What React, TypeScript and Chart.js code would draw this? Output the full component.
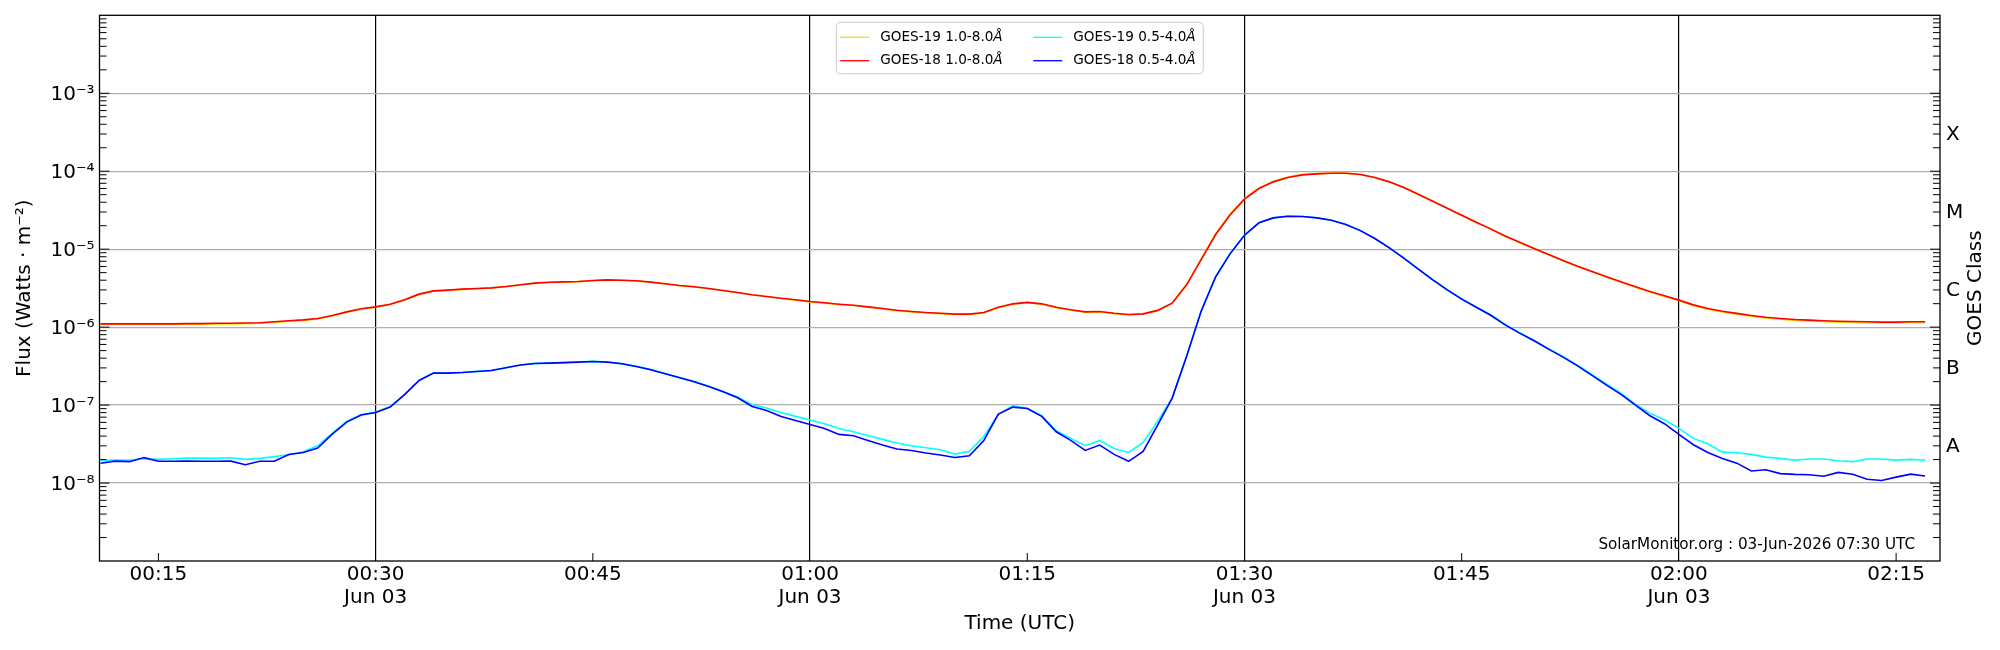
import { useEffect, useRef } from 'react';
import { Chart, registerables } from 'chart.js';

Chart.register(...registerables);

// one sample per minute, minutes after 00:00 UTC on Jun 03
const minutes = [
  11, 12, 13, 14, 15, 16, 17, 18, 19, 20, 21, 22, 23, 24, 25, 26, 27, 28, 29, 30,
  31, 32, 33, 34, 35, 36, 37, 38, 39, 40, 41, 42, 43, 44, 45, 46, 47, 48, 49, 50,
  51, 52, 53, 54, 55, 56, 57, 58, 59, 60, 61, 62, 63, 64, 65, 66, 67, 68, 69, 70,
  71, 72, 73, 74, 75, 76, 77, 78, 79, 80, 81, 82, 83, 84, 85, 86, 87, 88, 89, 90,
  91, 92, 93, 94, 95, 96, 97, 98, 99, 100, 101, 102, 103, 104, 105, 106, 107, 108, 109, 110,
  111, 112, 113, 114, 115, 116, 117, 118, 119, 120, 121, 122, 123, 124, 125, 126, 127, 128, 129, 130,
  131, 132, 133, 134, 135, 136, 137,
];

const g19Long = [
  1.08e-6, 1.08e-6, 1.08e-6, 1.08e-6, 1.08e-6, 1.08e-6, 1.09e-6, 1.09e-6, 1.10e-6, 1.10e-6,
  1.11e-6, 1.12e-6, 1.15e-6, 1.19e-6, 1.22e-6, 1.27e-6, 1.39e-6, 1.55e-6, 1.70e-6, 1.80e-6,
  1.95e-6, 2.22e-6, 2.62e-6, 2.90e-6, 2.96e-6, 3.05e-6, 3.11e-6, 3.17e-6, 3.30e-6, 3.47e-6,
  3.65e-6, 3.75e-6, 3.79e-6, 3.83e-6, 3.94e-6, 4.02e-6, 3.98e-6, 3.91e-6, 3.76e-6, 3.58e-6,
  3.40e-6, 3.27e-6, 3.11e-6, 2.93e-6, 2.76e-6, 2.58e-6, 2.45e-6, 2.33e-6, 2.22e-6, 2.11e-6,
  2.03e-6, 1.95e-6, 1.89e-6, 1.80e-6, 1.71e-6, 1.63e-6, 1.57e-6, 1.52e-6, 1.49e-6, 1.45e-6,
  1.45e-6, 1.52e-6, 1.78e-6, 1.97e-6, 2.06e-6, 1.97e-6, 1.78e-6, 1.65e-6, 1.55e-6, 1.57e-6,
  1.49e-6, 1.43e-6, 1.46e-6, 1.62e-6, 2.02e-6, 3.50e-6, 7.45e-6, 1.57e-5, 2.82e-5, 4.48e-5,
  6.12e-5, 7.42e-5, 8.40e-5, 9.06e-5, 9.31e-5, 9.48e-5, 9.46e-5, 9.09e-5, 8.31e-5, 7.31e-5,
  6.18e-5, 5.06e-5, 4.11e-5, 3.34e-5, 2.72e-5, 2.21e-5, 1.81e-5, 1.46e-5, 1.22e-5, 1.01e-5,
  8.49e-6, 7.11e-6, 6.00e-6, 5.13e-6, 4.38e-6, 3.77e-6, 3.25e-6, 2.82e-6, 2.48e-6, 2.19e-6,
  1.90e-6, 1.70e-6, 1.57e-6, 1.47e-6, 1.38e-6, 1.31e-6, 1.26e-6, 1.22e-6, 1.20e-6, 1.18e-6,
  1.16e-6, 1.15e-6, 1.14e-6, 1.14e-6, 1.14e-6, 1.15e-6, 1.15e-6,
];

const g18Long = [
  1.10e-6, 1.10e-6, 1.10e-6, 1.10e-6, 1.10e-6, 1.10e-6, 1.11e-6, 1.11e-6, 1.12e-6, 1.12e-6,
  1.13e-6, 1.14e-6, 1.17e-6, 1.21e-6, 1.24e-6, 1.29e-6, 1.41e-6, 1.57e-6, 1.72e-6, 1.82e-6,
  1.97e-6, 2.24e-6, 2.65e-6, 2.92e-6, 2.98e-6, 3.07e-6, 3.13e-6, 3.19e-6, 3.32e-6, 3.49e-6,
  3.67e-6, 3.77e-6, 3.81e-6, 3.85e-6, 3.96e-6, 4.04e-6, 4.00e-6, 3.93e-6, 3.78e-6, 3.60e-6,
  3.42e-6, 3.29e-6, 3.13e-6, 2.95e-6, 2.78e-6, 2.60e-6, 2.47e-6, 2.35e-6, 2.24e-6, 2.13e-6,
  2.05e-6, 1.97e-6, 1.91e-6, 1.82e-6, 1.73e-6, 1.65e-6, 1.59e-6, 1.54e-6, 1.51e-6, 1.47e-6,
  1.47e-6, 1.54e-6, 1.80e-6, 1.99e-6, 2.08e-6, 1.99e-6, 1.80e-6, 1.67e-6, 1.57e-6, 1.59e-6,
  1.51e-6, 1.45e-6, 1.48e-6, 1.64e-6, 2.03e-6, 3.49e-6, 7.30e-6, 1.53e-5, 2.75e-5, 4.38e-5,
  6.00e-5, 7.30e-5, 8.29e-5, 8.97e-5, 9.24e-5, 9.42e-5, 9.42e-5, 9.06e-5, 8.29e-5, 7.30e-5,
  6.18e-5, 5.07e-5, 4.12e-5, 3.35e-5, 2.73e-5, 2.22e-5, 1.82e-5, 1.48e-5, 1.23e-5, 1.02e-5,
  8.55e-6, 7.16e-6, 6.05e-6, 5.18e-6, 4.42e-6, 3.81e-6, 3.29e-6, 2.86e-6, 2.52e-6, 2.22e-6,
  1.93e-6, 1.73e-6, 1.60e-6, 1.50e-6, 1.41e-6, 1.34e-6, 1.29e-6, 1.25e-6, 1.23e-6, 1.21e-6,
  1.19e-6, 1.18e-6, 1.17e-6, 1.16e-6, 1.16e-6, 1.17e-6, 1.17e-6,
];

const g19Short = [
  1.95e-8, 1.97e-8, 1.97e-8, 2.05e-8, 2.01e-8, 2.05e-8, 2.09e-8, 2.09e-8, 2.07e-8, 2.11e-8,
  2.01e-8, 2.07e-8, 2.18e-8, 2.31e-8, 2.52e-8, 3.01e-8, 4.34e-8, 6.18e-8, 7.55e-8, 8.10e-8,
  9.50e-8, 1.37e-7, 2.08e-7, 2.59e-7, 2.58e-7, 2.63e-7, 2.71e-7, 2.79e-7, 3.02e-7, 3.27e-7,
  3.43e-7, 3.46e-7, 3.50e-7, 3.57e-7, 3.64e-7, 3.57e-7, 3.40e-7, 3.14e-7, 2.85e-7, 2.53e-7,
  2.25e-7, 2.00e-7, 1.74e-7, 1.49e-7, 1.27e-7, 1.01e-7, 9.16e-8, 8.05e-8, 7.16e-8, 6.43e-8,
  5.77e-8, 5.02e-8, 4.55e-8, 4.08e-8, 3.63e-8, 3.26e-8, 3.01e-8, 2.84e-8, 2.67e-8, 2.35e-8,
  2.55e-8, 3.96e-8, 7.59e-8, 9.79e-8, 9.10e-8, 7.30e-8, 4.69e-8, 3.74e-8, 3.01e-8, 3.52e-8,
  2.78e-8, 2.47e-8, 3.32e-8, 6.18e-8, 1.23e-7, 4.25e-7, 1.60e-6, 4.40e-6, 8.75e-6, 1.515e-5,
  2.185e-5, 2.525e-5, 2.655e-5, 2.625e-5, 2.525e-5, 2.355e-5, 2.075e-5, 1.735e-5, 1.375e-5, 1.045e-5,
  7.70e-6, 5.57e-6, 4.06e-6, 3.03e-6, 2.31e-6, 1.82e-6, 1.44e-6, 1.08e-6, 8.45e-7, 6.75e-7,
  5.29e-7, 4.19e-7, 3.25e-7, 2.46e-7, 1.85e-7, 1.42e-7, 1.02e-7, 7.89e-8, 6.49e-8, 5.02e-8,
  3.74e-8, 3.19e-8, 2.49e-8, 2.45e-8, 2.33e-8, 2.15e-8, 2.07e-8, 1.97e-8, 2.03e-8, 2.03e-8,
  1.93e-8, 1.88e-8, 2.03e-8, 2.03e-8, 1.97e-8, 2.01e-8, 1.96e-8,
];

const g18Short = [
  1.79e-8, 1.91e-8, 1.88e-8, 2.12e-8, 1.90e-8, 1.90e-8, 1.91e-8, 1.90e-8, 1.90e-8, 1.91e-8,
  1.72e-8, 1.90e-8, 1.90e-8, 2.33e-8, 2.47e-8, 2.81e-8, 4.25e-8, 6.05e-8, 7.45e-8, 8.05e-8,
  9.42e-8, 1.36e-7, 2.07e-7, 2.57e-7, 2.57e-7, 2.62e-7, 2.70e-7, 2.78e-7, 3.01e-7, 3.26e-7,
  3.42e-7, 3.45e-7, 3.50e-7, 3.56e-7, 3.63e-7, 3.56e-7, 3.39e-7, 3.13e-7, 2.84e-7, 2.52e-7,
  2.24e-7, 1.99e-7, 1.73e-7, 1.48e-7, 1.24e-7, 9.61e-8, 8.55e-8, 7.16e-8, 6.36e-8, 5.65e-8,
  5.02e-8, 4.21e-8, 4.05e-8, 3.52e-8, 3.07e-8, 2.73e-8, 2.62e-8, 2.43e-8, 2.29e-8, 2.13e-8,
  2.24e-8, 3.52e-8, 7.67e-8, 9.42e-8, 9.06e-8, 7.16e-8, 4.55e-8, 3.52e-8, 2.62e-8, 3.07e-8,
  2.33e-8, 1.90e-8, 2.55e-8, 5.54e-8, 1.22e-7, 4.21e-7, 1.59e-6, 4.38e-6, 8.71e-6, 1.51e-5,
  2.18e-5, 2.52e-5, 2.65e-5, 2.62e-5, 2.52e-5, 2.35e-5, 2.07e-5, 1.73e-5, 1.37e-5, 1.04e-5,
  7.67e-6, 5.54e-6, 4.04e-6, 3.01e-6, 2.29e-6, 1.80e-6, 1.42e-6, 1.07e-6, 8.38e-7, 6.68e-7,
  5.22e-7, 4.12e-7, 3.19e-7, 2.40e-7, 1.80e-7, 1.37e-7, 1.00e-7, 7.30e-8, 5.77e-8, 4.21e-8,
  3.10e-8, 2.47e-8, 2.07e-8, 1.80e-8, 1.43e-8, 1.48e-8, 1.32e-8, 1.29e-8, 1.28e-8, 1.22e-8,
  1.37e-8, 1.30e-8, 1.12e-8, 1.08e-8, 1.19e-8, 1.30e-8, 1.23e-8,
];

const xTickMinutes = [15, 30, 45, 60, 75, 90, 105, 120, 135];
const xTickLabels = ['00:15', '00:30', '00:45', '01:00', '01:15', '01:30', '01:45', '02:00', '02:15'];
const dateTickMinutes = [30, 60, 90, 120];
const dateLabel = 'Jun 03';

const yMajorValues = [1e-8, 1e-7, 1e-6, 1e-5, 1e-4, 1e-3];
const yMajorLabels = ['10⁻⁸', '10⁻⁷', '10⁻⁶', '10⁻⁵', '10⁻⁴', '10⁻³'];

const classValues = [3.162e-8, 3.162e-7, 3.162e-6, 3.162e-5, 3.162e-4];
const classLabels = ['A', 'B', 'C', 'M', 'X'];

const FONT = '"DejaVu Sans", sans-serif';

// every decade tick plus 2..9 minors between 1e-9 and 1e-2
const logTicks: number[] = [];
for (let e = -9; e < -2; e++) {
  for (let m = 1; m < 10; m++) logTicks.push(m * Math.pow(10, e));
}
logTicks.push(1e-2);

const majorIndex = (v: number) => yMajorValues.findIndex((m) => Math.abs(v - m) / m < 1e-6);
const isDecade = (v: number) => Math.abs(Math.log10(v) - Math.round(Math.log10(v))) < 1e-6;

const overlay = {
  id: 'overlay',
  afterDraw(chart: any) {
    const { ctx, chartArea: a, scales } = chart;
    const y = scales.y;
    const x = scales.x;
    ctx.save();

    // inward tick marks
    ctx.strokeStyle = '#000';
    ctx.lineWidth = 1;
    ctx.beginPath();
    y.ticks.forEach((t: any) => {
      const py = y.getPixelForValue(t.value);
      if (py < a.top + 1 || py > a.bottom - 1) return;
      const len = isDecade(t.value) ? 10 : 7;
      ctx.moveTo(a.left, py);
      ctx.lineTo(a.left + len, py);
      ctx.moveTo(a.right, py);
      ctx.lineTo(a.right - len, py);
    });
    x.ticks.forEach((t: any) => {
      if (dateTickMinutes.includes(t.value)) return;
      const px = x.getPixelForValue(t.value);
      ctx.moveTo(px, a.bottom);
      ctx.lineTo(px, a.bottom - 8);
    });
    ctx.stroke();

    // frame
    ctx.lineWidth = 1.3;
    ctx.strokeRect(a.left, a.top, a.right - a.left, a.bottom - a.top);

    // right axis title
    ctx.fillStyle = '#000';
    ctx.font = `20px ${FONT}`;
    ctx.textAlign = 'center';
    ctx.textBaseline = 'middle';
    ctx.save();
    ctx.translate(a.right + 36, (a.top + a.bottom) / 2);
    ctx.rotate(-Math.PI / 2);
    ctx.fillText('GOES Class', 0, 0);
    ctx.restore();

    // credit line
    ctx.font = `15.2px ${FONT}`;
    ctx.textAlign = 'right';
    ctx.textBaseline = 'alphabetic';
    ctx.fillText('SolarMonitor.org : 03-Jun-2026 07:30 UTC', a.right - 25, a.bottom - 12);

    // legend, two columns filled top to bottom
    const boxW = 367;
    const boxH = 51.5;
    const bx = (a.left + a.right) / 2 - boxW / 2;
    const by = a.top + 7;
    ctx.beginPath();
    ctx.roundRect(bx, by, boxW, boxH, 4);
    ctx.fillStyle = 'rgba(255,255,255,0.8)';
    ctx.fill();
    ctx.strokeStyle = '#cccccc';
    ctx.lineWidth = 1;
    ctx.stroke();
    chart.data.datasets.forEach((ds: any, i: number) => {
      const col = Math.floor(i / 2);
      const row = i % 2;
      const lx = bx + 4 + col * 193;
      const ly = by + 15 + row * 23.4;
      ctx.strokeStyle = ds.borderColor;
      ctx.lineWidth = 1.3;
      ctx.beginPath();
      ctx.moveTo(lx, ly);
      ctx.lineTo(lx + 29, ly);
      ctx.stroke();
      const label: string = ds.label;
      const base = label.endsWith('Å') ? label.slice(0, -1) : label;
      ctx.fillStyle = '#000';
      ctx.textAlign = 'left';
      ctx.textBaseline = 'middle';
      ctx.font = `13.6px ${FONT}`;
      ctx.fillText(base, lx + 40, ly);
      if (base !== label) {
        const w = ctx.measureText(base).width;
        ctx.font = `italic 13.6px ${FONT}`;
        ctx.fillText('Å', lx + 40 + w, ly);
      }
    });

    ctx.restore();
  },
};

const points = (values: number[]) => minutes.map((m, i) => ({ x: m, y: values[i] }));

export default function App() {
  const canvasRef = useRef<HTMLCanvasElement>(null);
  const chartRef = useRef<Chart | null>(null);

  useEffect(() => {
    if (!canvasRef.current) return;
    if (chartRef.current) chartRef.current.destroy();

    Chart.defaults.font.family = FONT;
    Chart.defaults.color = '#000';

    const line = (label: string, values: number[], color: string, order: number) => ({
      label,
      data: points(values),
      borderColor: color,
      backgroundColor: color,
      borderWidth: 1.6,
      pointRadius: 0,
      fill: false,
      tension: 0,
      order,
    });

    const noVerticalPad = (s: any, width: number) => {
      s.width = width;
      s.paddingTop = 0;
      s.paddingBottom = 0;
    };

    chartRef.current = new Chart(canvasRef.current, {
      type: 'line',
      data: {
        datasets: [
          line('GOES-19 1.0-8.0Å', g19Long, '#ffd700', 3),
          line('GOES-18 1.0-8.0Å', g18Long, '#ff0000', 2),
          line('GOES-19 0.5-4.0Å', g19Short, '#00ffff', 1),
          line('GOES-18 0.5-4.0Å', g18Short, '#0000ff', 0),
        ],
      },
      options: {
        animation: false,
        responsive: true,
        maintainAspectRatio: false,
        layout: { padding: { top: 15.3, left: 0, right: 0, bottom: 0 } },
        plugins: {
          legend: { display: false },
          tooltip: { enabled: false },
        },
        scales: {
          x: {
            type: 'linear',
            min: 10.93,
            max: 138.03,
            afterBuildTicks: (s: any) => {
              s.ticks = xTickMinutes.map((value) => ({ value }));
            },
            afterFit: (s: any) => {
              s.height = 89;
              s.paddingLeft = 0;
              s.paddingRight = 0;
            },
            ticks: {
              autoSkip: false,
              maxRotation: 0,
              padding: 2.5,
              color: '#000',
              font: { size: 20, lineHeight: 1.15 },
              callback: (v: any) => {
                const i = xTickMinutes.indexOf(v);
                const text = i >= 0 ? xTickLabels[i] : '';
                return dateTickMinutes.includes(v) ? [text, dateLabel] : text;
              },
            },
            grid: {
              drawTicks: false,
              lineWidth: 1.2,
              color: (c: any) => (c.tick && dateTickMinutes.includes(c.tick.value) ? '#000' : 'rgba(0,0,0,0)'),
            },
            border: { display: false },
            title: {
              display: true,
              text: 'Time (UTC)',
              color: '#000',
              font: { size: 20, lineHeight: 1.2 },
              padding: { top: 0, bottom: 14.5 },
            },
          },
          y: {
            type: 'logarithmic',
            position: 'left',
            min: 1e-9,
            max: 1e-2,
            afterBuildTicks: (s: any) => {
              s.ticks = logTicks.map((value) => ({ value }));
            },
            afterFit: (s: any) => noVerticalPad(s, 99.5),
            ticks: {
              autoSkip: false,
              padding: 5,
              labelOffset: 2,
              color: '#000',
              font: { size: 20 },
              callback: (v: any) => {
                const i = majorIndex(Number(v));
                return i >= 0 ? yMajorLabels[i] : '';
              },
            },
            grid: {
              drawTicks: false,
              lineWidth: 1.2,
              color: (c: any) => (c.tick && majorIndex(c.tick.value) >= 0 ? '#b0b0b0' : 'rgba(0,0,0,0)'),
            },
            border: { display: false },
            title: {
              display: true,
              text: 'Flux (Watts · m⁻²)',
              color: '#000',
              font: { size: 20, lineHeight: 1.2 },
              padding: { top: 13, bottom: 0 },
            },
          },
          y2: {
            type: 'logarithmic',
            position: 'right',
            min: 1e-9,
            max: 1e-2,
            afterBuildTicks: (s: any) => {
              s.ticks = classValues.map((value) => ({ value }));
            },
            afterFit: (s: any) => noVerticalPad(s, 60),
            ticks: {
              autoSkip: false,
              padding: 6,
              labelOffset: 3,
              color: '#000',
              font: { size: 20 },
              callback: (_v: any, i: number) => classLabels[i],
            },
            grid: { display: false, drawTicks: false },
            border: { display: false },
          },
        },
      },
      plugins: [overlay],
    } as any);

    return () => {
      if (chartRef.current) {
        chartRef.current.destroy();
        chartRef.current = null;
      }
    };
  }, []);

  return (
    <div style={{ position: 'fixed', left: 0, top: 0, width: 2000, height: 650, background: '#fff' }}>
      <canvas ref={canvasRef} />
    </div>
  );
}
